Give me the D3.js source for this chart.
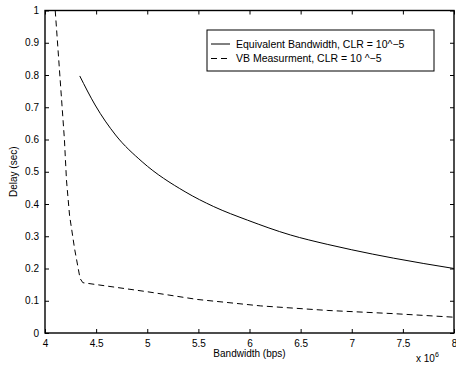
<!DOCTYPE html>
<html lang="en">
  <head>
    <meta charset="UTF-8" />
    <title>Delay vs Bandwidth</title>
    <style>
      body { margin: 0; background: #fff; }
      svg { display: block; font-family: 'Liberation Sans', Arial, sans-serif; }
      .axis path, .axis line { stroke: #000; }
      .axis text { font-size: 10px; fill: #000; }
    </style>
  </head>
  <body>
    <div id="chart"></div>
    <script src="https://d3js.org/d3.v7.min.js"></script>
    <script>
      // Equivalent Bandwidth, CLR = 10^-5 (bandwidth in units of 10^6 bps, delay in sec)
      const ebX = [4.34, 4.49, 4.69, 4.95, 5.37, 5.65, 5.98, 6.4, 6.76, 7.0, 7.41, 8.0];
      const ebY = [0.797, 0.707, 0.614, 0.531, 0.438, 0.392, 0.35, 0.304, 0.275, 0.258, 0.232, 0.2];

      // VB Measurment, CLR = 10^-5
      const vbX = [4.1, 4.19, 4.21, 4.24, 4.29, 4.343, 4.37, 5.0, 5.49, 6.11, 6.76, 7.41, 8.0];
      const vbY = [1.0, 0.6, 0.474, 0.365, 0.26, 0.169, 0.156, 0.128, 0.104, 0.084, 0.07, 0.06, 0.049];

      const xTicks = [4, 4.5, 5, 5.5, 6, 6.5, 7, 7.5, 8];
      const yTicks = [0, 0.1, 0.2, 0.3, 0.4, 0.5, 0.6, 0.7, 0.8, 0.9, 1];

      const legendLabels = ['Equivalent Bandwidth, CLR = 10^\u22125', 'VB Measurment, CLR = 10 ^\u22125'];

      const W = 456, H = 368;
      const margin = { top: 10.5, right: 2, bottom: 35, left: 45 };
      const width = W - margin.left - margin.right;
      const height = H - margin.top - margin.bottom;

      const svg = d3.select('#chart').append('svg')
        .attr('width', W).attr('height', H);
      const g = svg.append('g')
        .attr('transform', `translate(${margin.left},${margin.top})`);

      const x = d3.scaleLinear().domain([4, 8]).range([0, width]);
      const y = d3.scaleLinear().domain([0, 1]).range([height, 0]);

      // axes, matlab style: ticks inward on all four sides
      g.append('g').attr('class', 'axis')
        .attr('transform', `translate(0,${height})`)
        .call(d3.axisBottom(x).tickValues(xTicks).tickSize(-4).tickPadding(7).tickFormat(d3.format('')))
        .call(s => s.select('.domain').remove());
      g.append('g').attr('class', 'axis')
        .call(d3.axisTop(x).tickValues(xTicks).tickSize(-4).tickFormat(''))
        .call(s => s.select('.domain').remove());
      g.append('g').attr('class', 'axis')
        .call(d3.axisLeft(y).tickValues(yTicks).tickSize(-4).tickPadding(6).tickFormat(d3.format('')))
        .call(s => s.select('.domain').remove());
      g.append('g').attr('class', 'axis')
        .attr('transform', `translate(${width},0)`)
        .call(d3.axisRight(y).tickValues(yTicks).tickSize(-4).tickFormat(''))
        .call(s => s.select('.domain').remove());

      g.append('rect')
        .attr('width', width).attr('height', height)
        .attr('fill', 'none').attr('stroke', '#000').attr('stroke-width', 1.4);

      const smooth = d3.line().curve(d3.curveMonotoneX).x(d => x(d[0])).y(d => y(d[1]));
      const line = d3.line().x(d => x(d[0])).y(d => y(d[1]));

      g.append('path')
        .datum(d3.zip(ebX, ebY))
        .attr('d', smooth)
        .attr('fill', 'none').attr('stroke', '#000').attr('stroke-width', 1);

      g.append('path')
        .datum(d3.zip(vbX, vbY))
        .attr('d', line)
        .attr('fill', 'none').attr('stroke', '#000').attr('stroke-width', 1)
        .attr('stroke-dasharray', '6,4');

      // axis labels
      svg.append('text')
        .attr('x', margin.left + width / 2).attr('y', 357)
        .attr('text-anchor', 'middle').style('font-size', '10px')
        .text('Bandwidth (bps)');

      svg.append('text')
        .attr('transform', `translate(17,${margin.top + height / 2}) rotate(-90)`)
        .attr('text-anchor', 'middle').style('font-size', '10px')
        .text('Delay (sec)');

      const expo = svg.append('text').attr('x', 416).attr('y', 362).style('font-size', '10px');
      expo.append('tspan').text('x 10');
      expo.append('tspan').attr('dy', -5).style('font-size', '7px').text('6');

      // legend
      const legend = svg.append('g').attr('transform', 'translate(207,30)');
      legend.append('rect')
        .attr('width', 227).attr('height', 41)
        .attr('fill', '#fff').attr('stroke', '#000').attr('stroke-width', 1);

      const items = legend.selectAll('.legend-item')
        .data(legendLabels)
        .enter().append('g')
        .attr('class', 'legend-item')
        .attr('transform', (d, i) => `translate(0,${14 + i * 14.5})`);

      items.append('line')
        .attr('x1', 4).attr('x2', 23)
        .attr('stroke', '#000').attr('stroke-width', 1)
        .attr('stroke-dasharray', (d, i) => i === 1 ? '6,4' : null);

      items.append('text')
        .attr('x', 29).attr('dy', '0.35em')
        .style('font-size', '10.5px')
        .text(d => d);
    </script>
  </body>
</html>
